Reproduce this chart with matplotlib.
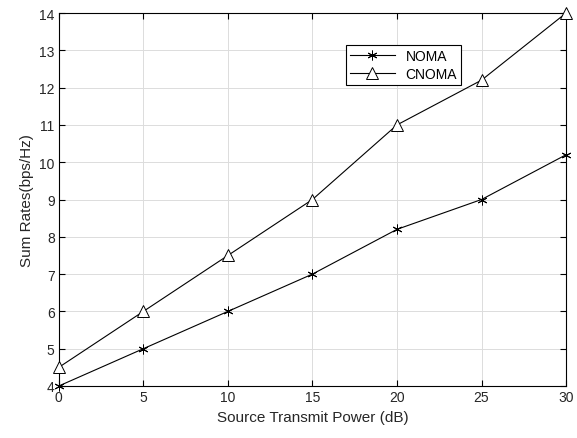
import matplotlib
matplotlib.use("Agg")
import matplotlib.pyplot as plt

power_db = [0, 5, 10, 15, 20, 25, 30]
noma = [4, 5, 6, 7, 8.2, 9, 10.2]
cnoma = [4.5, 6, 7.5, 9, 11, 12.2, 14]

plt.rcParams['font.family'] = ['Arial', 'Liberation Sans', 'DejaVu Sans']

fig = plt.figure(figsize=(5.77, 4.39), dpi=100)
ax = fig.add_axes([0.102, 0.1185, 0.879, 0.8495])

ax.plot(power_db, noma, color='black', lw=0.8, marker=(6, 2, 0), ms=7, mew=0.7,
        label='NOMA', clip_on=False, zorder=3)
ax.plot(power_db, cnoma, color='black', lw=0.8, marker='^', ms=9, mfc='white', mew=0.7,
        label='CNOMA', clip_on=False, zorder=3)

ax.set_xlim(0, 30)
ax.set_ylim(4, 14)
ax.set_xticks(range(0, 31, 5))
ax.set_yticks(range(4, 15))
ax.grid(True, color='#dcdcdc', lw=0.7)
ax.tick_params(direction='in', length=4, labelsize=10, top=True, right=True, pad=3,
               labelcolor='#262626')
for s in ax.spines.values():
    s.set_linewidth(0.8)

ax.set_xlabel('Source Transmit Power (dB)', fontsize=11, color='#262626')
ax.set_ylabel('Sum Rates(bps/Hz)', fontsize=11, color='#262626')

leg = ax.legend(loc='upper left', bbox_to_anchor=(0.566, 0.915), fontsize=10, fancybox=False,
                framealpha=1, edgecolor='black', borderpad=0.3, handlelength=3.2, labelspacing=0.3,
                borderaxespad=0)
leg.get_frame().set_linewidth(0.8)

fig.savefig('out.png', dpi=100)
